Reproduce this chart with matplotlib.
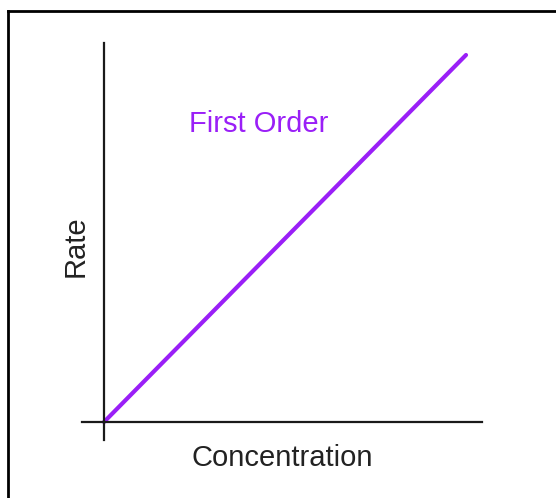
import matplotlib
matplotlib.use("Agg")
import matplotlib.pyplot as plt
from matplotlib.lines import Line2D

concentration = [0.0, 1.0]
rate = [0.0, 1.0]
series_label = "First Order"
x_label = "Concentration"
y_label = "Rate"

W, H = 556, 498
fig = plt.figure(figsize=(W / 100, H / 100), dpi=100)
fig.patch.set_facecolor("white")

def fx(px):
    return px / W

def fy(py):
    return 1 - py / H

# axes area in pixels: left 82, right 482, top 43, bottom 440
ax = fig.add_axes([fx(82), fy(440), (482 - 82) / W, (440 - 43) / H])
ax.set_xlim(-22 / 362, 378 / 362)
ax.set_ylim(-18 / 367, 379 / 367)
for s in ["top", "right"]:
    ax.spines[s].set_visible(False)
ax.spines["left"].set_position(("data", 0))
ax.spines["bottom"].set_position(("data", 0))
for s in ["left", "bottom"]:
    ax.spines[s].set_color("#1a1a1a")
    ax.spines[s].set_linewidth(1.6)
ax.set_xticks([])
ax.set_yticks([])
ax.patch.set_alpha(0)

purple = "#9a1ff7"
ax.plot(concentration, rate, color=purple, linewidth=3.0,
        solid_capstyle="round", clip_on=False)

font = "Liberation Sans"
fs = 21
fig.text(fx(258.5), fy(132), series_label, color=purple, fontsize=fs,
         family=font, ha="center", va="baseline")
fig.text(fx(282), fy(466), x_label, color="#222222", fontsize=fs,
         family=font, ha="center", va="baseline")
fig.text(fx(75.5), fy(246), y_label, color="#222222", fontsize=fs,
         family=font, ha="center", va="center", rotation=90)

# frame lines (top and left only)
fig.add_artist(Line2D([fx(8), fx(556)], [fy(11), fy(11)], color="black",
                      linewidth=2.0, transform=fig.transFigure))
fig.add_artist(Line2D([fx(8), fx(8)], [fy(11), fy(498)], color="black",
                      linewidth=2.0, transform=fig.transFigure))

fig.savefig("out.png", dpi=100, facecolor="white")
